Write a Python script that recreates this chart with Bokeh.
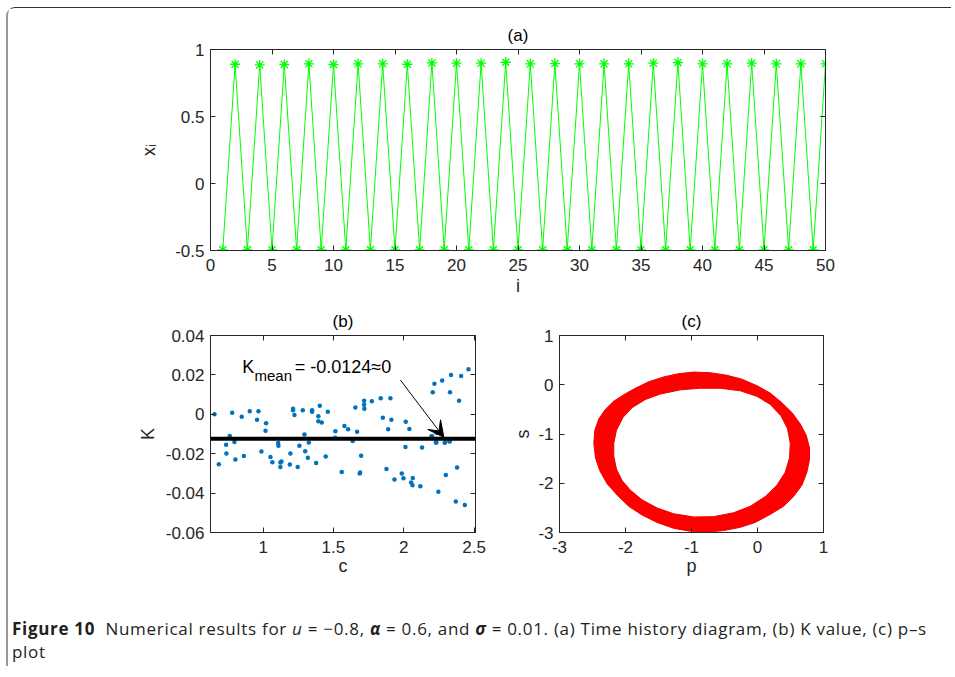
from bokeh.plotting import figure
from bokeh.models import Range1d, FixedTicker, LinearAxis, Label, Span, Arrow, VeeHead, Div
from bokeh.layouts import column, row
from bokeh.embed import file_html
from bokeh.resources import INLINE

# ---------------- data ----------------
# (a) time history
i_index = list(range(1, 51))
x_i = [-0.495, 0.890, -0.495, 0.885, -0.495, 0.888, -0.495, 0.893, -0.495, 0.888,
       -0.495, 0.893, -0.495, 0.893, -0.495, 0.890, -0.495, 0.900, -0.495, 0.898,
       -0.495, 0.898, -0.495, 0.905, -0.495, 0.893, -0.495, 0.895, -0.495, 0.893,
       -0.495, 0.893, -0.495, 0.893, -0.495, 0.898, -0.495, 0.903, -0.495, 0.893,
       -0.495, 0.893, -0.495, 0.898, -0.495, 0.893, -0.495, 0.893, -0.495, 0.893]
a_xticks = [0, 5, 10, 15, 20, 25, 30, 35, 40, 45, 50]
a_xlabels = ["0", "5", "10", "15", "20", "25", "30", "35", "40", "45", "50"]
a_yticks = [-0.5, 0, 0.5, 1]
a_ylabels = ["-0.5", "0", "0.5", "1"]

# (b) K values
c_vals = [0.654, 0.685, 0.737, 0.739, 0.763, 0.780, 0.796, 0.803, 0.848, 0.863,
          0.905, 0.957, 0.967, 0.988, 1.021, 1.017, 1.052, 1.066, 1.107, 1.109,
          1.123, 1.123, 1.130, 1.190, 1.194, 1.213, 1.213, 1.223, 1.246, 1.258,
          1.282, 1.294, 1.299, 1.318, 1.325, 1.348, 1.348, 1.377, 1.403, 1.393,
          1.393, 1.417, 1.445, 1.460, 1.514, 1.512, 1.578, 1.559, 1.604, 1.637,
          1.656, 1.668, 1.687, 1.690, 1.697, 1.718, 1.718, 1.720, 1.773, 1.836,
          1.851, 1.877, 1.889, 1.905, 1.912, 1.934, 1.986, 1.998, 2.012, 2.014,
          2.040, 2.052, 2.062, 2.064, 2.118, 2.130, 2.197, 2.206, 2.218, 2.232,
          2.246, 2.273, 2.299, 2.294, 2.325, 2.329, 2.336, 2.370, 2.379, 2.393,
          2.408, 2.434, 2.460, 2.201, 2.232, 2.228, 2.291, 2.327]
K_vals = [0.0000, -0.0253, -0.0155, -0.0199, -0.0110, 0.0008, -0.0140, -0.0230, -0.0013, -0.0212,
          0.0016, -0.0028, 0.0016, -0.0189, -0.0046, -0.0084, -0.0217, -0.0244, -0.0146, -0.0160,
          -0.0245, -0.0268, -0.0240, -0.0255, -0.0199, 0.0028, 0.0020, -0.0003, -0.0268, -0.0160,
          0.0021, -0.0102, -0.0188, -0.0220, -0.0143, 0.0021, 0.0013, -0.0247, 0.0043, -0.0010,
          -0.0035, -0.0041, -0.0214, 0.0013, -0.0086, -0.0119, -0.0059, -0.0293, -0.0076, -0.0135,
          0.0035, -0.0089, -0.0301, -0.0295, -0.0211, 0.0069, 0.0048, 0.0028, 0.0066, 0.0081,
          -0.0018, -0.0278, -0.0076, 0.0081, -0.0028, -0.0331, -0.0300, -0.0324, -0.0166, -0.0038,
          -0.0074, -0.0346, -0.0360, -0.0323, -0.0365, -0.0168, -0.0112, 0.0112, 0.0155, -0.0143,
          -0.0393, 0.0171, -0.0308, -0.0142, -0.0138, 0.0112, 0.0199, -0.0443, -0.0270, 0.0069,
          0.0194, -0.0461, 0.0229, -0.0112, -0.0094, -0.0143, -0.0145, -0.0137]
K_mean = -0.0124
arrow_start = (1.976, 0.0174)
arrow_end = (2.285, -0.0117)
b_xticks = [1, 1.5, 2, 2.5]
b_xlabels = ["1", "1.5", "2", "2.5"]
b_yticks = [-0.06, -0.04, -0.02, 0, 0.02, 0.04]
b_ylabels = ["-0.06", "-0.04", "-0.02", "0", "0.02", "0.04"]

# (c) p-s ring: outer and inner envelope
outer_p = [-2.480, -2.465, -2.405, -2.304, -2.178, -2.026, -1.850, -1.648, -1.421, -1.194,
           -0.967, -0.715, -0.463, -0.236, -0.009, 0.193, 0.370, 0.521, 0.647, 0.738,
           0.788, 0.788, 0.748, 0.672, 0.546, 0.395, 0.193, -0.034, -0.261, -0.513,
           -0.765, -1.018, -1.270, -1.522, -1.749, -1.951, -2.127, -2.279, -2.390, -2.455]
outer_s = [-1.187, -0.925, -0.695, -0.498, -0.333, -0.202, -0.071, 0.061, 0.159, 0.225,
           0.258, 0.245, 0.192, 0.113, -0.018, -0.169, -0.366, -0.563, -0.793, -1.023,
           -1.286, -1.516, -1.778, -2.041, -2.271, -2.468, -2.632, -2.796, -2.895, -2.961,
           -2.993, -2.974, -2.915, -2.796, -2.645, -2.468, -2.238, -2.008, -1.745, -1.483]
inner_p = [-0.866, -1.169, -1.472, -1.699, -1.900, -2.037, -2.137, -2.178, -2.178, -2.137,
           -2.052, -1.926, -1.749, -1.522, -1.270, -0.967, -0.664, -0.362, -0.110, 0.117,
           0.294, 0.420, 0.486, 0.496, 0.455, 0.355, 0.193, -0.009, -0.261, -0.564]
inner_s = [-0.071, -0.103, -0.189, -0.300, -0.465, -0.662, -0.925, -1.187, -1.450, -1.713,
           -1.943, -2.140, -2.337, -2.501, -2.619, -2.685, -2.678, -2.599, -2.468, -2.271,
           -2.041, -1.778, -1.483, -1.187, -0.892, -0.629, -0.399, -0.235, -0.123, -0.071]
c_ticks = [-3, -2, -1, 0, 1]
c_labels = ["-3", "-2", "-1", "0", "1"]

# ---------------- styling ----------------
AX = "#262626"
FONT = "Liberation Sans"


def make_fig(title, w, h, xr, yr, bl, br, bt, bb):
    p = figure(width=w, height=h, x_range=Range1d(*xr), y_range=Range1d(*yr),
               output_backend="svg", toolbar_location=None, title=title,
               min_border_left=bl, min_border_right=br, min_border_top=bt,
               min_border_bottom=bb)
    p.title.align = "center"
    p.title.text_font = FONT
    p.title.text_font_style = "normal"
    p.title.text_font_size = "17px"
    p.title.text_color = "black"
    p.grid.visible = False
    p.outline_line_color = AX
    p.background_fill_color = "white"
    p.border_fill_color = "white"
    return p


def style_axes(p, xt, xl, yt, yl, xlabel, ylabel, x_als, y_als):
    bx = p.below[0]
    ly = p.left[0]
    bx.ticker = FixedTicker(ticks=xt)
    ly.ticker = FixedTicker(ticks=yt)
    bx.major_label_overrides = dict(zip(xt, xl))
    ly.major_label_overrides = dict(zip(yt, yl))
    bx.axis_label = xlabel
    ly.axis_label = ylabel
    top = LinearAxis(ticker=FixedTicker(ticks=xt),
                     major_label_overrides={t: "" for t in xt})
    right = LinearAxis(ticker=FixedTicker(ticks=yt),
                       major_label_overrides={t: "" for t in yt})
    p.add_layout(top, "above")
    p.add_layout(right, "right")
    for ax in [bx, ly, top, right]:
        ax.major_tick_in = 5
        ax.major_tick_out = 0
        ax.minor_tick_line_color = None
        ax.axis_line_color = AX
        ax.major_tick_line_color = AX
        ax.major_label_text_font = FONT
        ax.major_label_text_color = AX
        ax.major_label_text_font_size = "17px"
        ax.axis_label_text_font = FONT
        ax.axis_label_text_font_style = "normal"
        ax.axis_label_text_color = AX
        ax.axis_label_text_font_size = "18px"
    bx.major_label_standoff = 8
    ly.major_label_standoff = 6
    bx.axis_label_standoff = x_als
    ly.axis_label_standoff = y_als
    top.major_label_standoff = 0
    right.major_label_standoff = 0


# ---------------- (a) ----------------
pA = make_fig("(a)", 943, 296, (0, 50), (-0.5, 1), 202, 126, 41, 54)
style_axes(pA, a_xticks, a_xlabels, a_yticks, a_ylabels, "i", "x\u1d62", 2, 13)
pA.line(i_index, x_i, line_color="#00ff00", line_width=1)
pA.scatter(i_index, x_i, marker="asterisk", size=10, line_color="#00ff00", line_width=1.3)

# ---------------- (b) ----------------
pB = make_fig("(b)", 495, 283, (0.626, 2.51), (-0.06, 0.04), 202, 28, 26, 54)
style_axes(pB, b_xticks, b_xlabels, b_yticks, b_ylabels, "c", "K", 0, 5)
pB.scatter(c_vals, K_vals, size=4.5, fill_color="#0072bd", line_color=None)
pB.add_layout(Span(location=K_mean, dimension="width", line_color="black", line_width=4))
pB.add_layout(Arrow(end=VeeHead(size=16, fill_color="black", line_color="black"),
                    x_start=arrow_start[0], y_start=arrow_start[1],
                    x_end=arrow_end[0], y_end=arrow_end[1],
                    line_color="black", line_width=1))
pB.add_layout(Label(x=0.851, y=0.024, text="K", text_baseline="alphabetic",
                    text_font=FONT, text_font_size="18px", text_color="black"))
pB.add_layout(Label(x=0.939, y=0.0197, text="mean", text_baseline="alphabetic",
                    text_font=FONT, text_font_size="15px", text_color="black"))
pB.add_layout(Label(x=1.225, y=0.024, text="= -0.0124\u22480", text_baseline="alphabetic",
                    text_font=FONT, text_font_size="18px", text_color="black"))

# ---------------- (c) ----------------
pC = make_fig("(c)", 448, 283, (-3, 1), (-3, 1), 56, 128, 25, 55)
style_axes(pC, c_ticks, c_labels, c_ticks, c_labels, "p", "s", 0, 2)
pC.multi_polygons(xs=[[[outer_p, inner_p]]], ys=[[[outer_s, inner_s]]],
                  fill_color="#ff0000", line_color="#ee0000", line_width=1)

# ---------------- caption ----------------
caption_html = (
    '<div style="margin-top:30px; margin-left:4px; font-family:\'Open Sans\'; '
    'font-size:17px; letter-spacing:0.7px; line-height:23px; color:#231f20; '
    'white-space:nowrap;">'
    '<b>Figure 10</b>&nbsp; Numerical results for <i>u</i> = \u22120.8, '
    '<b><i>\u03b1</i></b> = 0.6, and <b><i>\u03c3</i></b> = 0.01. '
    '(a) Time history diagram, (b) K value, (c) p\u2013s<br>plot</div>'
)
cap = Div(text=caption_html, width=943, height=79, margin=0)

layout = column(pA, row(pB, pC), cap, margin=(7, 0, 0, 6),
                styles={"border-top": "1px solid #333333",
                        "border-left": "2px solid #999999",
                        "border-top-left-radius": "9px"})

open("out.html", "w").write(file_html(layout, INLINE))
